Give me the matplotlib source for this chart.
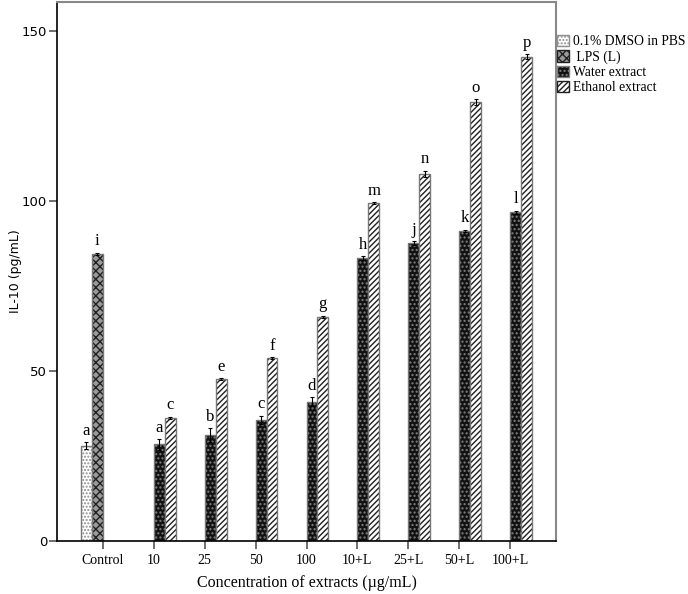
import numpy as np
import matplotlib.pyplot as plt
from matplotlib.patches import Patch

groups = ['Control', '10', '25', '50', '100', '10+L', '25+L', '50+L', '100+L']
dmso = [28.0, np.nan, np.nan, np.nan, np.nan, np.nan, np.nan, np.nan, np.nan]
lps = [84.4, np.nan, np.nan, np.nan, np.nan, np.nan, np.nan, np.nan, np.nan]
water = [np.nan, 28.4, 31.2, 35.6, 41.0, 83.2, 87.6, 91.2, 96.7]
ethanol = [np.nan, 36.3, 47.5, 53.7, 66.0, 99.4, 107.9, 129.1, 142.4]
dmso_err = [1.0] + [np.nan] * 8
lps_err = [0.4] + [np.nan] * 8
water_err = [np.nan, 1.5, 2.0, 1.2, 1.2, 0.5, 0.5, 0.4, 0.4]
ethanol_err = [np.nan, 0.3, 0.3, 0.3, 0.3, 0.3, 1.0, 0.8, 0.8]
dmso_lab = ['a'] + [''] * 8
lps_lab = ['i'] + [''] * 8
water_lab = ['', 'a', 'b', 'c', 'd', 'h', 'j', 'k', 'l']
ethanol_lab = ['', 'c', 'e', 'f', 'g', 'm', 'n', 'o', 'p']
series_names = ['0.1% DMSO in PBS', ' LPS (L)', 'Water extract', 'Ethanol extract']

serif = 'Liberation Serif'
fig = plt.figure(figsize=(6.88, 5.94), dpi=100)
ax = fig.add_axes([57/688, 53/594, 499/688, 539/594])

x = np.arange(len(groups))
w = 0.215
styles = [
    dict(face='white', hcol='#909090', hatch='.....'),
    dict(face='#9a9a9a', hcol='#202020', hatch='xxxx'),
    dict(face='#111111', hcol='#808080', hatch='....'),
    dict(face='white', hcol='#202020', hatch='//////'),
]
allvals = [dmso, lps, water, ethanol]
allerr = [dmso_err, lps_err, water_err, ethanol_err]
alllab = [dmso_lab, lps_lab, water_lab, ethanol_lab]

for i, (vals, errs, labs, st) in enumerate(zip(allvals, allerr, alllab, styles)):
    pos = x + (i - 1.5) * w
    v = np.array(vals, dtype=float)
    ax.bar(pos, v, w, color=st['face'], edgecolor=st['hcol'], hatch=st['hatch'], linewidth=0)
    ax.bar(pos, v, w, fill=False, edgecolor='#777777', linewidth=1.0)
    ax.errorbar(pos, v, yerr=errs, fmt='none', ecolor='black', elinewidth=0.8, capsize=1.5, capthick=0.8)
    for p, val, e, lab in zip(pos, v, errs, labs):
        if lab:
            ax.text(p, val + (e if not np.isnan(e) else 0) + 1.0, lab, ha='center', va='bottom',
                    family=serif, fontsize=12)

ax.set_xlim(-0.9, 8.9)
ax.set_ylim(0, 158.5)
ax.set_xticks(x)
ax.set_xticklabels(groups, family=serif, fontsize=10)
ax.set_yticks([0, 50, 100, 150])
ax.tick_params(axis='y', length=6, width=1.2, color='#555555', labelsize=9.5, pad=1)
ax.tick_params(axis='x', length=6, width=1.2, color='#555555', pad=3)
for s in ['top', 'right']:
    ax.spines[s].set_color('#888888')
    ax.spines[s].set_linewidth(1.5)
for s in ['left', 'bottom']:
    ax.spines[s].set_linewidth(1.2)

ax.set_xlabel('Concentration of extracts (\u00b5g/mL)', family=serif, fontsize=11.5, labelpad=6)
ax.set_ylabel('IL-10 (pg/mL)', fontsize=9, labelpad=0)

handles = []
for st, name in zip(styles, series_names):
    handles.append(Patch(facecolor=st['face'], edgecolor=st['hcol'], hatch=st['hatch'], label=name))
fig.legend(handles=handles, loc='upper left', bbox_to_anchor=(557/688, 1 - 35/594),
           frameon=False, prop={'family': serif, 'size': 9.8}, handlelength=0.9, handleheight=0.9,
           handletextpad=0.3, labelspacing=0.14, borderaxespad=0, borderpad=0)

fig.savefig('out.png', dpi=100)
